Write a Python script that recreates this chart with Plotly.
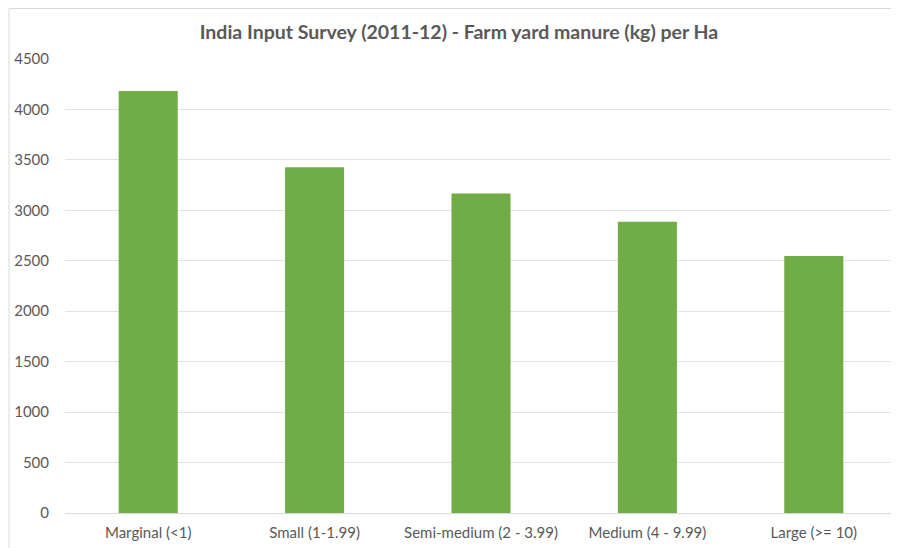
import plotly.graph_objects as go

categories = ["Marginal (<1)", "Small (1-1.99)", "Semi-medium (2 - 3.99)", "Medium (4 - 9.99)", "Large (>= 10)"]
values = [4182, 3427, 3166, 2886, 2548]
y_ticks = [0, 500, 1000, 1500, 2000, 2500, 3000, 3500, 4000, 4500]
title_text = "India Input Survey (2011-12) - Farm yard manure (kg) per Ha"

fig = go.Figure(go.Bar(
    x=categories, y=values,
    marker=dict(color="#70AD47", line=dict(width=0)),
    width=0.355,
))

# page body has an 8px margin, so the figure is offset by (8, 8)
fig.update_layout(
    width=891, height=540,
    margin=dict(l=57, r=2, t=51, b=35),
    paper_bgcolor="white", plot_bgcolor="white",
    title=dict(text="<b>" + title_text + "</b>", x=(459 - 8) / 891, xanchor="center",
               y=1 - 24 / 540, yanchor="middle",
               font=dict(family="Lato", size=19.5, color="#595959")),
    font=dict(family="Lato", size=15, color="#595959"),
    showlegend=False,
)
fig.update_xaxes(showline=True, linecolor="#D9D9D9", linewidth=1, ticks="",
                 ticklabelstandoff=6,
                 tickfont=dict(size=15, color="#595959"))
fig.update_yaxes(range=[0, 4500], tickvals=y_ticks, showgrid=True, gridcolor="#E3E3E3",
                 gridwidth=1, zeroline=False, ticks="", ticklabelstandoff=15,
                 tickfont=dict(size=15, color="#595959"))

# outer chart frame (left and top edges; right side is cropped in the reference)
fig.add_shape(type="line", xref="paper", yref="paper", x0=-56/832, x1=-56/832,
              y0=-0.2, y1=1 + 50.5/454, line=dict(color="#D9D9D9", width=1), layer="below")
fig.add_shape(type="line", xref="paper", yref="paper", x0=-56/832, x1=1.1,
              y0=1 + 50.5/454, y1=1 + 50.5/454, line=dict(color="#D9D9D9", width=1), layer="below")

fig.write_html("out.html")
